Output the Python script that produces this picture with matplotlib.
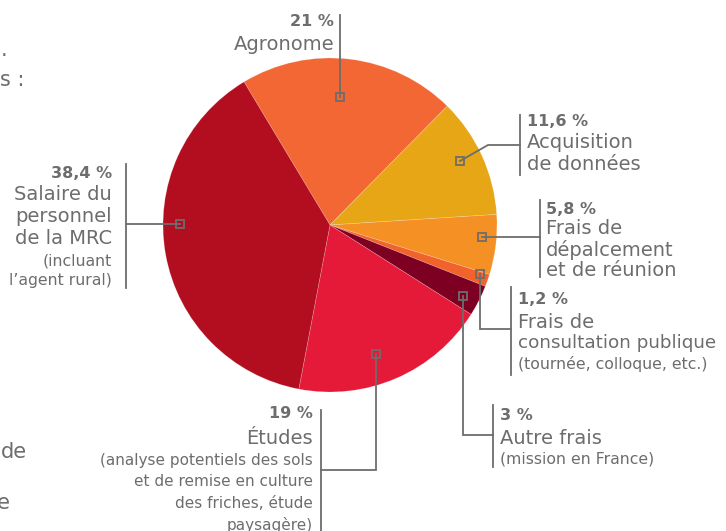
import matplotlib.pyplot as plt

# slice data, clockwise from the top-left boundary
postes = ["Agronome", "Acquisition de données", "Frais de dépalcement",
          "Frais de consultation publique", "Autre frais", "Études",
          "Salaire du personnel"]
pourcent = [21, 11.6, 5.8, 1.2, 3, 19, 38.4]
couleurs = ["#F26733", "#E6A615", "#F59024", "#F2622B", "#7D0022", "#E51938", "#B30E1F"]

W, H = 726, 531
GRIS = "#6d6d6d"


def Y(py):
    return H - py


fig = plt.figure(figsize=(W / 100, H / 100), dpi=100)
ax = fig.add_axes([0, 0, 1, 1])
ax.pie(pourcent, colors=couleurs, startangle=121, counterclock=False,
       center=(330, Y(225)), radius=167,
       wedgeprops=dict(linewidth=0.5, edgecolor="#ffffff40"))
ax.set_xlim(0, W)
ax.set_ylim(0, H)
ax.set_aspect("equal")
ax.axis("off")


def leader(pts, mark):
    xs = [p[0] for p in pts]
    ys = [Y(p[1]) for p in pts]
    ax.plot(xs, ys, color=GRIS, lw=1.3, solid_joinstyle="miter")
    ax.plot(mark[0], Y(mark[1]), marker="s", ms=5.5, mfc="none", mec=GRIS, mew=1.3)


def bar(x, y0, y1):
    ax.plot([x, x], [Y(y0), Y(y1)], color=GRIS, lw=1.3)


def bloc(x, lignes, ha):
    # lignes: (texte, taille, gras, y)
    for texte, taille, gras, yy in lignes:
        ax.text(x, Y(yy), texte, ha=ha, va="center", fontsize=taille, color=GRIS,
                fontweight="bold" if gras else "normal")


M, P, B = 14, 11.3, 11.5

# Agronome
leader([(340, 15), (340, 97)], (340, 97))
bloc(334, [("21 %", B, True, 21), ("Agronome", M, False, 44)], "right")

# Acquisition
leader([(460, 161), (488, 145), (520, 145)], (460, 161))
bar(520, 115, 175)
bloc(527, [("11,6 %", B, True, 122), ("Acquisition", M, False, 143),
           ("de données", M, False, 164)], "left")

# Frais de déplacement
leader([(482, 237), (540, 237)], (482, 237))
bar(540, 200, 277)
bloc(546, [("5,8 %", B, True, 209), ("Frais de", M, False, 229),
           ("dépalcement", M, False, 250), ("et de réunion", M, False, 270)], "left")

# Frais de consultation
leader([(480, 274), (480, 329), (511, 329)], (480, 274))
bar(511, 287, 375)
bloc(518, [("1,2 %", B, True, 300), ("Frais de", M, False, 322),
           ("consultation publique", 13.2, False, 343),
           ("(tournée, colloque, etc.)", P, False, 364)], "left")

# Autre frais
leader([(463, 296), (463, 435), (493, 435)], (463, 296))
bar(493, 405, 467)
bloc(500, [("3 %", B, True, 416), ("Autre frais", M, False, 438),
           ("(mission en France)", P, False, 459)], "left")

# Études
leader([(376, 354), (376, 470), (321, 470)], (376, 354))
bar(321, 410, 531)
bloc(313, [("19 %", B, True, 414), ("Études", M, False, 438),
           ("(analyse potentiels des sols", 11, False, 461),
           ("et de remise en culture", 11, False, 482),
           ("des friches, étude", 11, False, 504),
           ("paysagère)", 11, False, 525)], "right")

# Salaire
leader([(180, 224), (126, 224)], (180, 224))
bar(126, 164, 288)
bloc(112, [("38,4 %", B, True, 173), ("Salaire du", M, False, 195),
           ("personnel", M, False, 217), ("de la MRC", M, False, 239),
           ("(incluant", P, False, 261), ("l’agent rural)", P, False, 280)], "right")

# cropped text from the page at the left edge
for t, xx, yy in [("ts.", 8, 50), ("antes :", 24, 80), ("de", 27, 452), ("ne", 10, 503)]:
    ax.text(xx, Y(yy), t, ha="right", va="center", fontsize=15, color=GRIS)

fig.savefig("out.png", dpi=100)
